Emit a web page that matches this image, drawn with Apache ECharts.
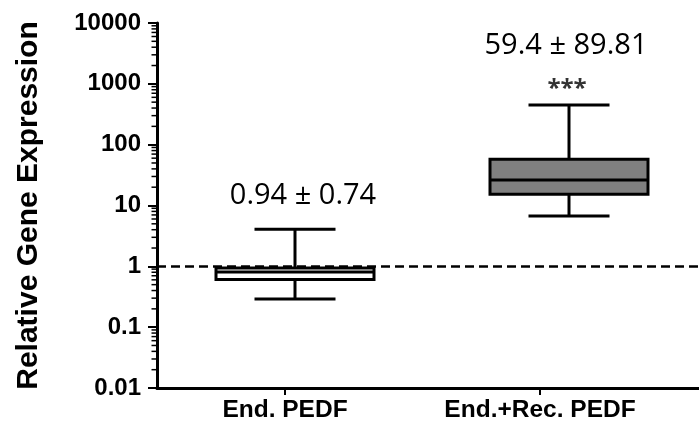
<!DOCTYPE html>
<html><head><meta charset="utf-8">
<script src="https://cdn.jsdelivr.net/npm/echarts@6/dist/echarts.min.js"></script>
<style>html,body{margin:0;padding:0;background:#fff}#c{width:699px;height:429px}</style>
</head><body><div id="c"></div>
<script>
const categories = ['End. PEDF', 'End.+Rec. PEDF'];
const whiskerMin = [0.29, 6.7];
const q1 = [0.61, 15.3];
const median = [0.81, 26.3];
const q3 = [0.94, 57.5];
const whiskerMax = [4.06, 450];
const meanSdText = ['0.94 \u00b1 0.74', '59.4 \u00b1 89.81'];
const significance = ['', '***'];
const boxFill = ['#ffffff', '#808080'];
const referenceLevel = 1;
const yTickLabels = ['0.01', '0.1', '1', '10', '100', '1000', '10000'];
const yMin = 0.01, yMax = 10000;

// minor log ticks (2..9 in each decade)
const minorTicks = [];
for (let d = -2; d <= 3; d++) for (let k = 2; k <= 9; k++) minorTicks.push(k * Math.pow(10, d));

const boxData = categories.map((c, i) => [i + 1, whiskerMin[i], q1[i], median[i], q3[i], whiskerMax[i]]);

const BOX_W = 158, CAP_W = 81, LW = 3;
const LABEL_DX = [8, -3];
const chart = echarts.init(document.getElementById('c'), null, {renderer: 'canvas'});
chart.setOption({
  animation: false,
  backgroundColor: '#fff',
  grid: {left: 157, right: 0, top: 23, bottom: 41, containLabel: false},
  xAxis: {
    type: 'value', min: 0.49635, max: 2.47445,
    axisLine: {show: true, onZero: false, lineStyle: {color: '#000', width: 3}},
    axisTick: {show: true, length: 7, customValues: [0.9635, 1.89416], lineStyle: {color: '#000', width: 2}},
    axisLabel: {show: true, customValues: [0.9635, 1.89416], margin: 10, color: '#000', fontSize: 24.5, fontWeight: 'bold', fontFamily: 'Liberation Sans',
      formatter: v => categories[v < 1.4 ? 0 : 1]},
    splitLine: {show: false}
  },
  yAxis: {
    type: 'log', logBase: 10, min: yMin, max: yMax,
    axisLine: {show: true, lineStyle: {color: '#000', width: 3}},
    axisTick: {show: true, length: 9, lineStyle: {color: '#000', width: 2}},
    axisLabel: {margin: 16, color: '#000', fontSize: 24, fontWeight: 'bold', fontFamily: 'Liberation Sans',
      formatter: v => yTickLabels[Math.round(Math.log10(v)) + 2]},
    splitLine: {show: false},
    name: 'Relative Gene Expression', nameLocation: 'middle', nameGap: 113,
    nameTextStyle: {fontSize: 30, fontWeight: 'bold', fontFamily: 'Liberation Sans', color: '#000'}
  },
  series: [{
    type: 'custom',
    data: boxData,
    encode: {x: 0, y: [1, 2, 3, 4, 5]},
    clip: false,
    renderItem: function (params, api) {
      const i = params.dataIndex;
      const x = api.value(0);
      const pMin = api.coord([x, api.value(1)]);
      const pQ1 = api.coord([x, api.value(2)]);
      const pMed = api.coord([x, api.value(3)]);
      const pQ3 = api.coord([x, api.value(4)]);
      const pMax = api.coord([x, api.value(5)]);
      const cx = pMed[0];
      const ls = {stroke: '#000', lineWidth: LW};
      const ch = [
        {type: 'line', shape: {x1: cx, y1: pMax[1], x2: cx, y2: pQ3[1]}, style: ls},
        {type: 'line', shape: {x1: cx, y1: pQ1[1], x2: cx, y2: pMin[1]}, style: ls},
        {type: 'line', shape: {x1: cx - CAP_W / 2, y1: pMax[1], x2: cx + CAP_W / 2, y2: pMax[1]}, style: ls},
        {type: 'line', shape: {x1: cx - CAP_W / 2, y1: pMin[1], x2: cx + CAP_W / 2, y2: pMin[1]}, style: ls},
        {type: 'rect', shape: {x: cx - BOX_W / 2, y: pQ3[1], width: BOX_W, height: pQ1[1] - pQ3[1]},
          style: {fill: boxFill[i], stroke: '#000', lineWidth: LW}},
        {type: 'line', shape: {x1: cx - BOX_W / 2, y1: pMed[1], x2: cx + BOX_W / 2, y2: pMed[1]}, style: ls}
      ];
      const hasStars = significance[i] !== '';
      ch.push({type: 'text', style: {text: meanSdText[i], x: cx + LABEL_DX[i], y: pMax[1] - (hasStars ? 59 : 34),
        align: 'center', verticalAlign: 'middle', fontSize: 29, fontFamily: 'Open Sans', fill: '#000'}});
      if (hasStars) {
        ch.push({type: 'text', style: {text: significance[i], x: cx - 2, y: pMax[1] - 16,
          align: 'center', verticalAlign: 'middle', fontSize: 24, fontFamily: 'Open Sans', fontWeight: 'bold', fill: '#333'}});
      }
      return {type: 'group', children: ch};
    },
    markLine: {
      silent: true, symbol: 'none', label: {show: false},
      lineStyle: {type: [9, 5], color: '#000', width: 2.5},
      data: [{yAxis: referenceLevel}]
    }
  }, {
    // minor log ticks on the y axis, placed through the axis scale
    type: 'custom',
    data: minorTicks.map(v => [1, v]),
    encode: {x: 0, y: 1},
    clip: false,
    silent: true,
    renderItem: function (params, api) {
      const p = api.coord([api.value(0), api.value(1)]);
      const x0 = params.coordSys.x;
      return {type: 'line', shape: {x1: x0 - 5.5, y1: p[1], x2: x0, y2: p[1]}, style: {stroke: '#000', lineWidth: 1.5}};
    }
  }]
});
</script></body></html>
